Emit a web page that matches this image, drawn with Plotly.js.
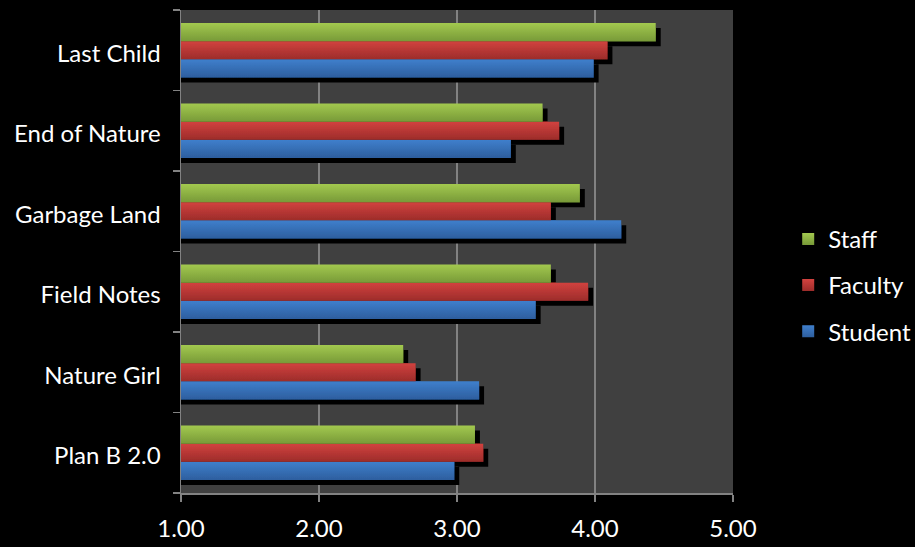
<!DOCTYPE html>
<html>
<head>
<meta charset="utf-8">
<script src="https://cdn.plot.ly/plotly-3.0.1.min.js"></script>
<style>
html,body{margin:0;padding:0;background:#000;}
#chart{width:915px;height:547px;}
</style>
</head>
<body>
<svg width="0" height="0" style="position:absolute">
  <defs>
    <linearGradient id="gStaff" x1="0" y1="0" x2="0" y2="1">
      <stop offset="0" stop-color="#a3c94f"/>
      <stop offset="1" stop-color="#789a38"/>
    </linearGradient>
    <linearGradient id="gFaculty" x1="0" y1="0" x2="0" y2="1">
      <stop offset="0" stop-color="#d2423f"/>
      <stop offset="1" stop-color="#9c2c2a"/>
    </linearGradient>
    <linearGradient id="gStudent" x1="0" y1="0" x2="0" y2="1">
      <stop offset="0" stop-color="#3f7fcc"/>
      <stop offset="1" stop-color="#2d5e9e"/>
    </linearGradient>
    <filter id="shadow" x="-10%" y="-10%" width="130%" height="130%">
      <feDropShadow dx="5" dy="5" stdDeviation="0" flood-color="#000" flood-opacity="1"/>
    </filter>
  </defs>
</svg>
<div id="chart"></div>
<script>
const categories = ["Plan B 2.0", "Nature Girl", "Field Notes", "Garbage Land", "End of Nature", "Last Child"];
const student = [2.98, 3.16, 3.57, 4.19, 3.39, 3.99];
const faculty = [3.19, 2.70, 3.95, 3.68, 3.74, 4.09];
const staff   = [3.13, 2.61, 3.68, 3.89, 3.62, 4.44];
const xTicks = [1, 2, 3, 4, 5];
const xTickLabels = ["1.00", "2.00", "3.00", "4.00", "5.00"];

const font = "Lato, 'Open Sans', sans-serif";

const traces = [
  {name: "Student", x: student, y: categories, type: "bar", orientation: "h",
   marker: {color: "#3a72bb"}, legendgroup: "a", legendrank: 3},
  {name: "Faculty", x: faculty, y: categories, type: "bar", orientation: "h",
   marker: {color: "#bf3b38"}, legendgroup: "b", legendrank: 2},
  {name: "Staff", x: staff, y: categories, type: "bar", orientation: "h",
   marker: {color: "#8db145"}, legendgroup: "c", legendrank: 1}
];

const layout = {
  width: 915, height: 547,
  paper_bgcolor: "#000", plot_bgcolor: "#404040",
  margin: {l: 181, r: 182, t: 10, b: 54, autoexpand: false},
  barmode: "group", bargap: 0.32, bargroupgap: 0,
  font: {family: font, color: "#fff", size: 24},
  showlegend: true,
  legend: {x: 1.1, xanchor: "left", y: 0.43, yanchor: "middle",
           traceorder: "grouped", tracegroupgap: 12,
           font: {family: font, size: 24, color: "#fff"},
           bgcolor: "rgba(0,0,0,0)"},
  xaxis: {range: [1, 5], tickvals: xTicks, ticktext: xTickLabels,
          showgrid: true, gridcolor: "#828282", gridwidth: 1.5,
          showline: true, linecolor: "#828282", linewidth: 1.5,
          ticks: "outside", ticklen: 7, tickcolor: "#828282", tickwidth: 1.5,
          zeroline: false, fixedrange: true, ticklabelstandoff: 7,
          tickfont: {family: font, size: 24, color: "#fff"}},
  yaxis: {type: "category", categoryorder: "array", categoryarray: categories,
          showline: true, linecolor: "#828282", linewidth: 1.5,
          ticks: "outside", ticklen: 7, tickcolor: "#828282", tickwidth: 1.5,
          tickson: "boundaries", showgrid: false, fixedrange: true,
          ticklabelstandoff: 14, ticklabelshift: 3,
          tickfont: {family: font, size: 24, color: "#fff"}}
};

Plotly.newPlot("chart", traces, layout, {staticPlot: true, displayModeBar: false}).then(function(gd){
  const grads = ["url(#gStudent)", "url(#gFaculty)", "url(#gStaff)"];
  const barTraces = gd.querySelectorAll(".barlayer .trace");
  barTraces.forEach(function(t, i){
    t.querySelectorAll("path").forEach(function(p){ p.style.fill = grads[i]; });
  });
  const bl = gd.querySelector(".barlayer");
  if (bl) bl.setAttribute("filter", "url(#shadow)");
  gd.querySelectorAll(".legend .traces").forEach(function(t){
    const nm = t.textContent.trim();
    const g = nm === "Student" ? grads[0] : nm === "Faculty" ? grads[1] : grads[2];
    t.querySelectorAll(".legendpoints path").forEach(function(p){ p.style.fill = g; p.style.stroke = "none"; });
  });
});
</script>
</body>
</html>
